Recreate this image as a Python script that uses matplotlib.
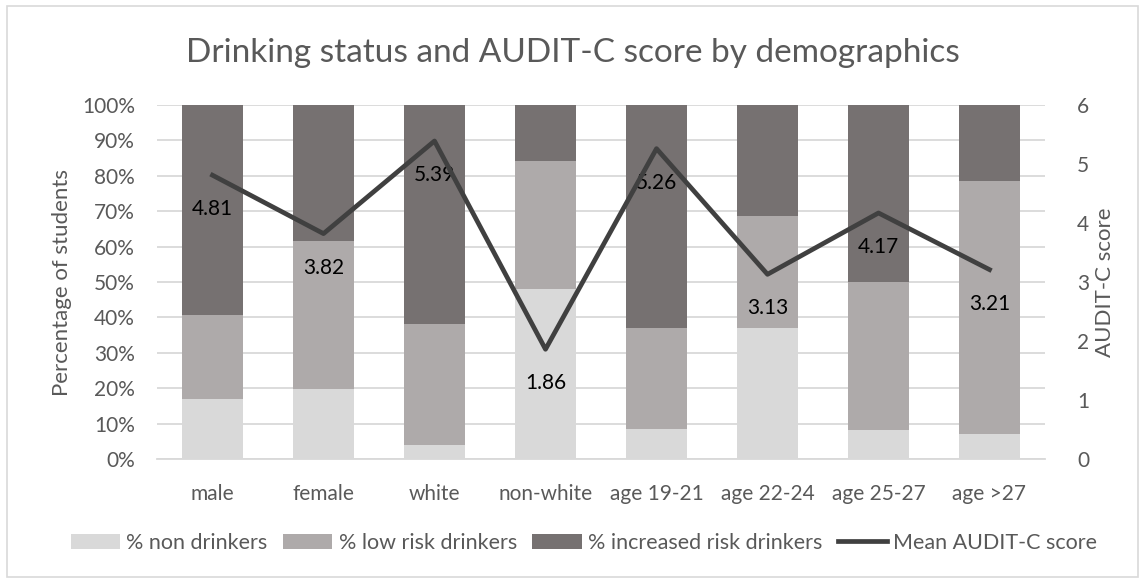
import matplotlib.pyplot as plt
import numpy as np
from matplotlib.patches import Rectangle

plt.rcParams['font.family'] = ['Lato', 'DejaVu Sans']

categories = ['male', 'female', 'white', 'non-white', 'age 19-21', 'age 22-24', 'age 25-27', 'age >27']
non_drinkers = [16.9, 19.7, 3.9, 47.9, 8.6, 37.0, 8.3, 7.0]
low_risk = [23.7, 41.8, 34.2, 36.2, 28.4, 31.6, 41.6, 71.5]
increased_risk = [59.4, 38.5, 61.9, 15.9, 63.0, 31.4, 50.1, 21.5]
audit_c = [4.81, 3.82, 5.39, 1.86, 5.26, 3.13, 4.17, 3.21]

txt = '#595959'
grid_c = '#D9D9D9'

fig = plt.figure(figsize=(11.46, 5.79), dpi=100)
ax = fig.add_axes([157 / 1146, 1 - 459 / 579, (1045 - 157) / 1146, (459 - 105) / 579])

x = np.arange(len(categories))
w = 0.55
nd = np.array(non_drinkers)
lr = np.array(low_risk)
ir = np.array(increased_risk)
ax.bar(x, nd, w, color='#D9D9D9', label='% non drinkers', zorder=2)
ax.bar(x, lr, w, bottom=nd, color='#AEAAAA', label='% low risk drinkers', zorder=2)
ax.bar(x, ir, w, bottom=nd + lr, color='#767171', label='% increased risk drinkers', zorder=2)

ax.set_xlim(-0.5, len(categories) - 0.5)
ax.set_ylim(0, 100)
ax.set_yticks(np.arange(0, 101, 10))
ax.set_yticklabels([f'{v}%' for v in range(0, 101, 10)])
ax.yaxis.grid(True, color=grid_c, linewidth=1.3, zorder=0)
ax.set_axisbelow(True)
ax.set_xticks(x)
ax.set_xticklabels(categories)
ax.tick_params(axis='both', length=0, labelsize=15, colors=txt)
ax.tick_params(axis='x', pad=18)
ax.tick_params(axis='y', pad=16)
for s in ['top', 'right', 'left']:
    ax.spines[s].set_visible(False)
ax.spines['bottom'].set_color(grid_c)
ax.spines['bottom'].set_linewidth(1.3)
ax.set_ylabel('Percentage of students', fontsize=16, color=txt)
ax.yaxis.set_label_coords(-0.0957, 0.5)

ax2 = ax.twinx()
ax2.plot(x, audit_c, color='#404040', linewidth=3.4, label='Mean AUDIT-C score', zorder=5)
ax2.set_ylim(0, 6)
ax2.set_yticks(range(0, 7))
ax2.tick_params(axis='y', length=0, labelsize=15, colors=txt, pad=23)
for s in ax2.spines.values():
    s.set_visible(False)
ax2.set_ylabel('AUDIT-C score', fontsize=16, color=txt)
ax2.yaxis.set_label_coords(1.0563, 0.5)
for xi, v in zip(x, audit_c):
    ax2.annotate(f'{v:.2f}', (xi, v), xytext=(0, -24.5), textcoords='offset points',
                 ha='center', va='center', fontsize=15, color='#000000')

fig.text(0.5, 1 - 53 / 579, 'Drinking status and AUDIT-C score by demographics',
         ha='center', va='center', fontsize=24, color=txt)

h1, l1 = ax.get_legend_handles_labels()
h2, l2 = ax2.get_legend_handles_labels()
fig.legend(h1 + h2, l1 + l2, loc='center', bbox_to_anchor=(584 / 1146, 1 - 543 / 579),
           ncol=4, frameon=False, fontsize=15.5, handlelength=2.3, handletextpad=0.3,
           columnspacing=0.7, labelcolor=txt)

fig.patches.append(Rectangle((7 / 1146, 2 / 579), 1131 / 1146, 571 / 579, transform=fig.transFigure,
                             fill=False, edgecolor='#D9D9D9', linewidth=1.2))

fig.savefig('out.png', dpi=100)
